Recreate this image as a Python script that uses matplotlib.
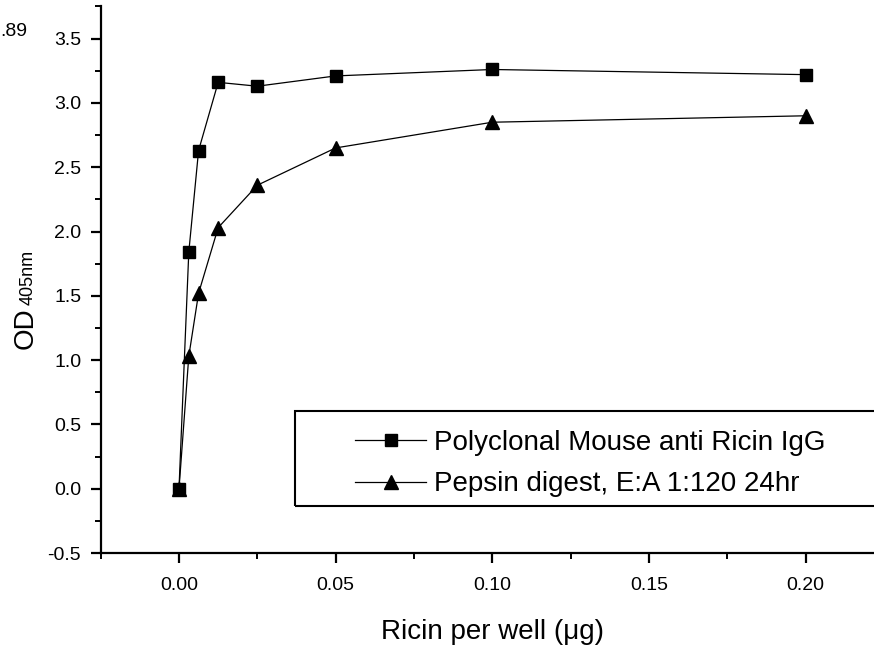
import matplotlib
matplotlib.use("Agg")
import matplotlib.pyplot as plt
from matplotlib.patches import Rectangle
from matplotlib.ticker import MultipleLocator

plt.rcParams['font.family'] = ['Liberation Sans', 'DejaVu Sans']

# Ricin per well (ug)
ricin = [0.0, 0.003125, 0.00625, 0.0125, 0.025, 0.05, 0.1, 0.2]
# OD405 readings
polyclonal = [0.0, 1.84, 2.63, 3.16, 3.13, 3.21, 3.26, 3.22]
pepsin = [0.0, 1.03, 1.52, 2.03, 2.36, 2.65, 2.85, 2.90]

labels = ["Polyclonal Mouse anti Ricin IgG", "Pepsin digest, E:A 1:120 24hr"]

fig = plt.figure(figsize=(8.74, 6.48), dpi=100)
ax = fig.add_axes([0.1152, 0.1466, 0.8961, 0.8434])

ax.plot(ricin, polyclonal, color='black', lw=0.9, marker='s', ms=8.5, label=labels[0])
ax.plot(ricin, pepsin, color='black', lw=0.9, marker='^', ms=10, label=labels[1])

ax.set_xlim(-0.025, 0.225)
ax.set_ylim(-0.5, 3.75)
ax.xaxis.set_minor_locator(MultipleLocator(0.025))
ax.yaxis.set_minor_locator(MultipleLocator(0.25))
ax.set_xticks([0.0, 0.05, 0.10, 0.15, 0.20])
ax.set_xticklabels(["0.00", "0.05", "0.10", "0.15", "0.20"])
ax.set_yticks([-0.5, 0.0, 0.5, 1.0, 1.5, 2.0, 2.5, 3.0, 3.5])
ax.set_yticklabels(["-0.5", "0.0", "0.5", "1.0", "1.5", "2.0", "2.5", "3.0", "3.5"])

for s in ['top', 'right']:
    ax.spines[s].set_visible(False)
for s in ['left', 'bottom']:
    ax.spines[s].set_linewidth(1.6)

ax.tick_params(which='major', direction='out', length=7, width=1.6, labelsize=14, pad=7)
ax.tick_params(axis='x', which='major', pad=10)
ax.tick_params(which='minor', direction='out', length=4, width=1.4)

ax.set_xlabel("Ricin per well (\u03bcg)", fontsize=20, labelpad=18)

# y label: OD with a small 405nm sitting on the same baseline
fig.text(33 / 874, 1 - 328 / 648, "OD", fontsize=20, rotation=90,
         rotation_mode='anchor', ha='center', va='baseline')
fig.text(33 / 874, 1 - 277 / 648, "405nm", fontsize=13, rotation=90,
         rotation_mode='anchor', ha='center', va='baseline')

# legend box runs off the right edge
fig.add_artist(Rectangle((295 / 874, 1 - 506 / 648), 0.7, 95 / 648,
                         transform=fig.transFigure, fill=False, lw=1.5,
                         edgecolor='black'))
ax.legend(loc='upper left', bbox_to_anchor=(355 / 874, 1 - 430 / 648),
          bbox_transform=fig.transFigure, frameon=False, fontsize=20,
          borderpad=0, borderaxespad=0, handlelength=2.56, handletextpad=0.29,
          labelspacing=0.55)

fig.text(0.0, 0.952, ".89", fontsize=14, ha='left', va='center')

fig.savefig("out.png", dpi=100)
